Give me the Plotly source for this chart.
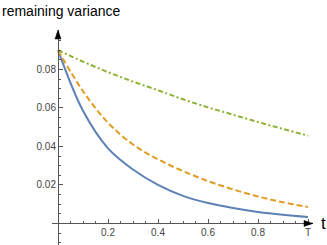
import plotly.graph_objects as go

# data
t_vals = [0.0, 0.1, 0.2, 0.3, 0.4, 0.5, 0.6, 0.7, 0.8, 0.9, 1.0]
blue_vals = [0.090, 0.0585, 0.0390, 0.0280, 0.0200, 0.0143, 0.0106, 0.0080, 0.0060, 0.0045, 0.0033]
orange_vals = [0.090, 0.0687, 0.0523, 0.0410, 0.0333, 0.0272, 0.0220, 0.0177, 0.0140, 0.0110, 0.0085]
green_vals = [0.090, 0.0841, 0.0786, 0.0737, 0.0692, 0.0645, 0.0603, 0.0565, 0.0527, 0.0491, 0.0456]

x_tickvals = [0.2, 0.4, 0.6, 0.8, 1.0]
x_ticktext = ["0.2", "0.4", "0.6", "0.8", "T"]
y_tickvals = [0.02, 0.04, 0.06, 0.08]
y_ticktext = ["0.02", "0.04", "0.06", "0.08"]

W, H = 327, 245
ml, mr, mt, mb = 52, 14, 30, 0
pw, ph = W - ml - mr, H - mt - mb

x_range = [-0.024, 1.02]
y_range = [-0.0112, 0.1005]

axis_col = "#555555"
tick_font = dict(family="Liberation Sans, Arial, sans-serif", size=10, color="#444444")

fig = go.Figure()
series = [
    (blue_vals, "#5E81B5", "solid"),
    (orange_vals, "#E19C24", "6px,3px"),
    (green_vals, "#8FB032", "5px,2.5px,2px,2.5px"),
]
for vals, col, dash in series:
    fig.add_trace(go.Scatter(
        x=t_vals, y=vals, mode="lines",
        line=dict(color=col, width=2, dash=dash, shape="spline", smoothing=1.0),
        showlegend=False, hoverinfo="skip"))

x0_frac = (0 - x_range[0]) / (x_range[1] - x_range[0])
y0_frac = (0 - y_range[0]) / (y_range[1] - y_range[0])

x_minor = [round(0.05 * i, 2) for i in range(0, 21) if i % 4 != 0]
y_minor = [round(0.005 * i, 3) for i in range(-2, 20) if i % 4 != 0]

fig.update_layout(
    width=W, height=H,
    margin=dict(l=ml, r=mr, t=mt, b=mb, pad=0, autoexpand=False),
    plot_bgcolor="white", paper_bgcolor="white",
    xaxis=dict(range=x_range, anchor="free", position=y0_frac, automargin=False,
               showline=True, linecolor=axis_col, linewidth=1,
               showgrid=False, zeroline=False,
               tickmode="array", tickvals=x_tickvals, ticktext=x_ticktext,
               ticks="inside", ticklen=4, tickcolor=axis_col, tickwidth=1,
               tickfont=tick_font,
               minor=dict(tickmode="array", tickvals=x_minor, ticks="inside",
                          ticklen=2, tickcolor=axis_col, showgrid=False)),
    yaxis=dict(range=y_range, anchor="free", position=x0_frac, automargin=False,
               showline=True, linecolor=axis_col, linewidth=1,
               showgrid=False, zeroline=False,
               tickmode="array", tickvals=y_tickvals, ticktext=y_ticktext,
               ticks="inside", ticklen=4, tickcolor=axis_col, tickwidth=1,
               tickfont=tick_font,
               minor=dict(tickmode="array", tickvals=y_minor, ticks="inside",
                          ticklen=2, tickcolor=axis_col, showgrid=False)),
)

# arrowheads (paper coords)
ax_len, ax_half = 9 / pw, 3 / ph
fig.add_shape(type="path", xref="paper", yref="paper",
              path=f"M 1 {y0_frac} L {1 - ax_len} {y0_frac + ax_half} L {1 - ax_len} {y0_frac - ax_half} Z",
              fillcolor="black", line=dict(color="black", width=0.5))
ay_len, ay_half = 9 / ph, 3 / pw
fig.add_shape(type="path", xref="paper", yref="paper",
              path=f"M {x0_frac} 1 L {x0_frac - ay_half} {1 - ay_len} L {x0_frac + ay_half} {1 - ay_len} Z",
              fillcolor="black", line=dict(color="black", width=0.5))

label_font = dict(family="Liberation Sans, Arial, sans-serif", color="black")
fig.add_annotation(text="remaining variance", xref="paper", yref="paper",
                   x=-ml / pw, y=(H - 11) / ph, xanchor="left", yanchor="middle",
                   showarrow=False, font=dict(size=14, **label_font))
fig.add_annotation(text="t", xref="paper", yref="paper",
                   x=1 + 10 / pw, y=y0_frac, xanchor="center", yanchor="middle",
                   showarrow=False, font=dict(size=17, **label_font))

fig.write_html(
    "out.html",
    config={"displayModeBar": False, "staticPlot": True},
    post_script="document.body.style.margin='0px';document.body.style.padding='0px';document.body.style.overflow='hidden';",
)
